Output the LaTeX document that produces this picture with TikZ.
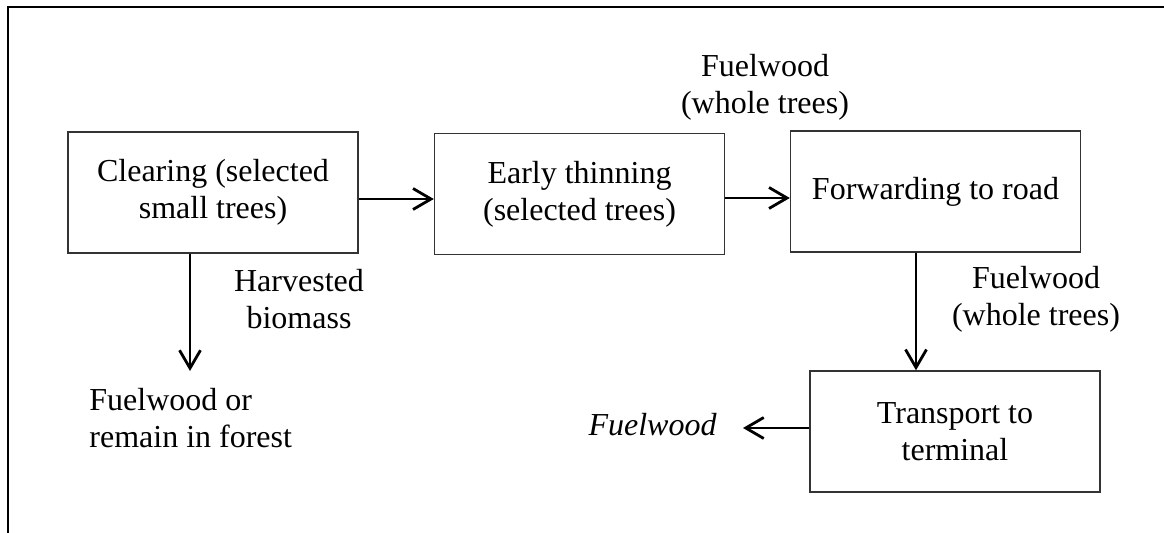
\documentclass[tikz,border=0pt]{standalone}
\usepackage{fontspec}
\setmainfont{Liberation Serif}
\usetikzlibrary{arrows.meta}
\newcommand\figfont{\fontsize{16pt}{18.5pt}\selectfont}
\begin{document}
\begin{tikzpicture}[x=0.5pt,y=-0.5pt,
  box/.style={draw=black!80, line width=0.7pt, minimum width=145pt, minimum height=60.5pt, align=center, inner sep=0pt, font=\figfont},
  lbl/.style={align=center, inner sep=0pt, font=\figfont},
  arr/.style={line width=1.4pt, -{Straight Barb[length=9pt,width=10.5pt,line width=1.4pt]}},
  frame/.style={line width=1.4pt}
]
\useasboundingbox (0,0) rectangle (1164,533);
\coordinate (fa) at (8,533);
\coordinate (fb) at (8,7);
\coordinate (fc) at (1164,7);
\draw[frame] (fa) -- (fb) -- (fc);

\node[box] (clear) at (213,192.5) {Clearing (selected\\small trees)};
\node[box] (thin) at (579.5,194) {Early thinning\\(selected trees)};
\node[box] (fwd) at (935.5,191.5) {Forwarding to road};
\node[box] (trans) at (955,431.5) {Transport to\\terminal};

\coordinate (harvend) at (190,371);
\coordinate (fwout) at (743,428);

\draw[arr] (clear.east |- 0,199) -- (thin.west |- 0,199);
\draw[arr] (thin.east |- 0,198) -- (fwd.west |- 0,198);
\draw[arr] (clear.south -| harvend) -- (harvend);
\draw[arr] (fwd.south -| 916,0) -- (trans.north -| 916,0);
\draw[arr] (trans.west |- fwout) -- (fwout);

\node[lbl, anchor=base] (toplbl) at (765,114) {Fuelwood\\(whole trees)};
\node[lbl, anchor=base] (harvlbl) at (299,329) {Harvested\\biomass};
\node[lbl, anchor=base] (fwdlbl) at (1036,326) {Fuelwood\\(whole trees)};
\node[lbl, align=left, anchor=base west] (restlbl) at (89,448) {Fuelwood or\\remain in forest};
\node[lbl, anchor=base east] (outlbl) at (717,436) {\textit{Fuelwood}};
\end{tikzpicture}
\end{document}
